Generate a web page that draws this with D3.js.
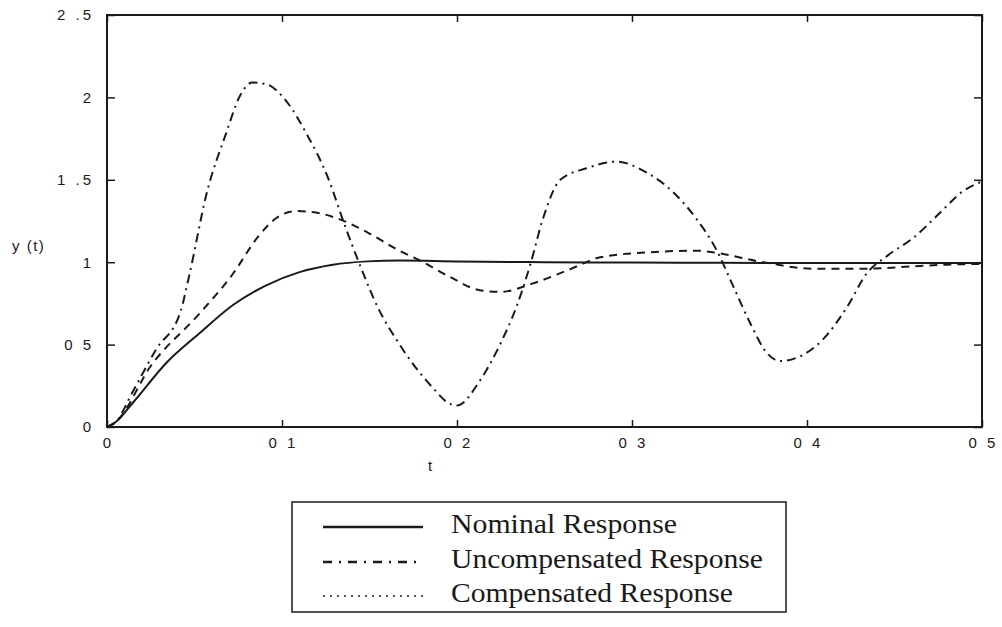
<!DOCTYPE html>
<html>
<head>
<meta charset="utf-8">
<script src="https://cdn.jsdelivr.net/npm/d3@7"></script>
<style>
  body { margin: 0; background: #fff; }
  svg { display: block; }
</style>
</head>
<body>
<div id="chart"></div>
<script>
(function() {
	var width = 1002,
		height = 627;

	// data
	var nominalT = [0, 0.005, 0.015, 0.034, 0.053, 0.072, 0.091, 0.11, 0.129, 0.149, 0.167, 0.2, 0.25, 0.3, 0.35, 0.4, 0.45, 0.5];
	var nominalY = [0, 0.03, 0.15, 0.39, 0.57, 0.74, 0.86, 0.94, 0.985, 1.005, 1.01, 1.005, 1.0, 0.998, 0.996, 0.995, 0.995, 0.995];

	var uncompT = [0, 0.005, 0.015, 0.028, 0.042, 0.047, 0.057, 0.068, 0.076, 0.083, 0.091, 0.103, 0.114, 0.126, 0.136, 0.145, 0.155, 0.166, 0.186, 0.196, 0.2, 0.213, 0.225, 0.234, 0.242, 0.249, 0.259, 0.274, 0.291, 0.309, 0.324, 0.337, 0.348, 0.358, 0.368, 0.377, 0.385, 0.394, 0.409, 0.423, 0.434, 0.446, 0.461, 0.476, 0.489, 0.5];
	var uncompY = [0, 0.03, 0.22, 0.47, 0.7, 0.92, 1.42, 1.78, 2.01, 2.09, 2.08, 1.97, 1.78, 1.52, 1.22, 0.97, 0.72, 0.52, 0.24, 0.14, 0.13, 0.28, 0.51, 0.73, 0.99, 1.26, 1.5, 1.57, 1.61, 1.54, 1.42, 1.26, 1.08, 0.85, 0.62, 0.45, 0.4, 0.42, 0.53, 0.73, 0.93, 1.04, 1.15, 1.3, 1.43, 1.49];

	var compT = [0, 0.005, 0.025, 0.053, 0.072, 0.086, 0.097, 0.108, 0.12, 0.133, 0.149, 0.167, 0.179, 0.196, 0.213, 0.225, 0.243, 0.263, 0.282, 0.31, 0.337, 0.346, 0.375, 0.404, 0.432, 0.461, 0.48, 0.5];
	var compY = [0, 0.03, 0.37, 0.69, 0.93, 1.15, 1.27, 1.31, 1.3, 1.26, 1.18, 1.07, 1.01, 0.91, 0.83, 0.82, 0.87, 0.95, 1.03, 1.06, 1.07, 1.06, 1.0, 0.96, 0.96, 0.975, 0.985, 0.99];

	var xTicks = [0, 0.1, 0.2, 0.3, 0.4, 0.5];
	var xTickLabels = ["0", "0 1", "0 2", "0 3", "0 4", "0 5"];
	var yTicks = [0, 0.5, 1, 1.5, 2, 2.5];
	var yTickLabels = ["0", "0 5", "1", "1 .5", "2", "2 .5"];

	var legendNames = ["Nominal Response", "Uncompensated Response", "Compensated Response"];

	var svg = d3.select("#chart")
		.append("svg")
		.attr("width", width)
		.attr("height", height);

	var x = d3.scaleLinear().domain([0, 0.5]).range([107, 982]);
	var y = d3.scaleLinear().domain([0, 2.5]).range([427, 15]);

	var ink = "#1a1a1a";
	var sans = "'Liberation Sans', Arial, sans-serif";

	// inward ticks on all four sides
	var axisB = d3.axisBottom(x).tickValues(xTicks).tickSizeInner(-7).tickSizeOuter(0).tickFormat(function(d, i) { return xTickLabels[i]; });
	var axisT = d3.axisTop(x).tickValues(xTicks).tickSizeInner(-7).tickSizeOuter(0).tickFormat("");
	var axisL = d3.axisLeft(y).tickValues(yTicks).tickSizeInner(-8).tickSizeOuter(0).tickFormat(function(d, i) { return yTickLabels[i]; });
	var axisR = d3.axisRight(y).tickValues(yTicks).tickSizeInner(-8).tickSizeOuter(0).tickFormat("");

	function styleAxis(g) {
		g.select(".domain").remove();
		g.selectAll(".tick line").attr("stroke", ink).attr("stroke-width", 1.5);
		g.selectAll(".tick text")
			.attr("fill", ink)
			.style("font-family", sans)
			.style("font-size", "15px")
			.style("letter-spacing", "3px");
	}

	svg.append("g").attr("transform", "translate(0,427)").call(axisB).call(styleAxis)
		.selectAll(".tick text").attr("dy", "0").attr("y", 21).attr("dx", 1);
	svg.append("g").attr("transform", "translate(0,15)").call(axisT).call(styleAxis);
	svg.append("g").attr("transform", "translate(107,0)").call(axisL).call(styleAxis)
		.selectAll(".tick text").attr("x", -13);
	svg.append("g").attr("transform", "translate(982,0)").call(axisR).call(styleAxis);

	// frame
	svg.append("rect")
		.attr("x", x(0)).attr("y", y(2.5))
		.attr("width", x(0.5) - x(0)).attr("height", y(0) - y(2.5))
		.attr("fill", "none").attr("stroke", ink).attr("stroke-width", 2);

	// axis titles
	svg.append("text").attr("x", 12).attr("y", 251).text("y (t)")
		.attr("fill", ink).style("font-family", sans).style("font-size", "15px")
		.style("letter-spacing", "1.5px");
	svg.append("text").attr("x", 430).attr("y", 471).text("t").attr("text-anchor", "middle")
		.attr("fill", ink).style("font-family", sans).style("font-size", "15px");

	var line = d3.line()
		.x(function(d) { return x(d[0]); })
		.y(function(d) { return y(d[1]); })
		.curve(d3.curveMonotoneX);

	var series = [
		{ t: nominalT, v: nominalY, dash: null },
		{ t: uncompT, v: uncompY, dash: "9,5,2,5" },
		{ t: compT, v: compY, dash: "8,6" }
	];

	series.forEach(function(s) {
		svg.append("path")
			.datum(d3.zip(s.t, s.v))
			.attr("d", line)
			.attr("fill", "none")
			.attr("stroke", ink)
			.attr("stroke-width", 2)
			.attr("stroke-dasharray", s.dash);
	});

	// legend
	var legend = svg.append("g");
	legend.append("rect")
		.attr("x", 292).attr("y", 502).attr("width", 494).attr("height", 110)
		.attr("fill", "#fff").attr("stroke", ink).attr("stroke-width", 1.5);

	var legendDash = [null, "9,7,2,7", "2,5"];
	var legendWidth = [2.5, 2.5, 1.5];
	var legendTextLen = [226, 312, 282];
	var rowY = [527, 562, 596];

	legendNames.forEach(function(name, i) {
		legend.append("line")
			.attr("x1", 323).attr("x2", 423)
			.attr("y1", rowY[i]).attr("y2", rowY[i])
			.attr("stroke", ink).attr("stroke-width", legendWidth[i])
			.attr("stroke-dasharray", legendDash[i]);
		legend.append("text")
			.attr("x", 451).attr("y", rowY[i] + 6)
			.attr("textLength", legendTextLen[i])
			.attr("lengthAdjust", "spacingAndGlyphs")
			.text(name)
			.attr("fill", ink)
			.style("font-family", "'Liberation Serif', 'Times New Roman', serif")
			.style("font-size", "27px");
	});
})();
</script>
</body>
</html>
